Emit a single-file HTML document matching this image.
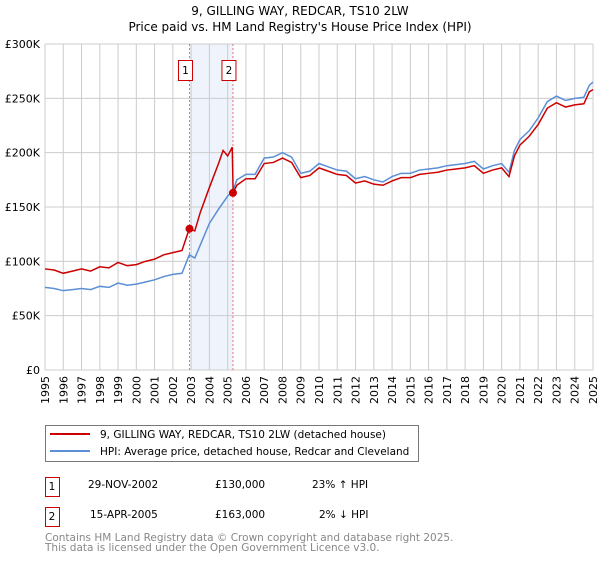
<!DOCTYPE html>
<html><head><meta charset="utf-8"><style>
body{margin:0;background:#fff;font-family:"Liberation Sans","DejaVu Sans",sans-serif;}
svg text{font-family:"DejaVu Sans","Liberation Sans",sans-serif;}
</style></head><body>
<svg width="600" height="560" viewBox="0 0 600 560" xmlns="http://www.w3.org/2000/svg">
<text x="300" y="15" text-anchor="middle" font-size="12">9, GILLING WAY, REDCAR, TS10 2LW</text>
<text x="300" y="31" text-anchor="middle" font-size="12">Price paid vs. HM Land Registry's House Price Index (HPI)</text>
<g id="grid"></g>
<g id="plot"></g>
<g id="axes"></g>
<g>
<rect x="45.5" y="425.5" width="373" height="36" fill="#fff" stroke="#777" stroke-width="1"/>
<line x1="50" y1="434" x2="90" y2="434" stroke="#cc0000" stroke-width="2"/>
<text x="100" y="438" font-size="10.5">9, GILLING WAY, REDCAR, TS10 2LW (detached house)</text>
<line x1="50" y1="451" x2="90" y2="451" stroke="#5b8fd6" stroke-width="2"/>
<text x="100" y="455" font-size="10.5">HPI: Average price, detached house, Redcar and Cleveland</text>
</g>
<g font-size="10.5">
<rect x="45.5" y="477.5" width="14" height="19" fill="#fff" stroke="#cc0000"/><text x="52" y="490" text-anchor="middle">1</text>
<text x="88" y="488">29-NOV-2002</text><text x="215" y="488">£130,000</text><text x="312" y="488">23% ↑ HPI</text>
<rect x="45.5" y="507.5" width="14" height="19" fill="#fff" stroke="#cc0000"/><text x="52" y="520" text-anchor="middle">2</text>
<text x="90" y="518">15-APR-2005</text><text x="215" y="518">£163,000</text><text x="319" y="518">2% ↓ HPI</text>
</g>
<text x="45" y="541" font-size="10.5" fill="#888">Contains HM Land Registry data © Crown copyright and database right 2025.</text>
<text x="45" y="551" font-size="10.5" fill="#888">This data is licensed under the Open Government Licence v3.0.</text>
</svg>
<script>
const hpiYears=[1995,1995.5,1996,1996.5,1997,1997.5,1998,1998.5,1999,1999.5,2000,2000.5,2001,2001.5,2002,2002.5,2002.9,2003.2,2003.5,2004,2004.5,2005,2005.3,2005.5,2006,2006.5,2007,2007.5,2008,2008.5,2009,2009.5,2010,2010.5,2011,2011.5,2012,2012.5,2013,2013.5,2014,2014.5,2015,2015.5,2016,2016.5,2017,2017.5,2018,2018.5,2019,2019.5,2020,2020.4,2020.7,2021,2021.5,2022,2022.5,2023,2023.5,2024,2024.5,2024.8,2025];
const hpiValues=[76,75,73,74,75,74,77,76,80,78,79,81,83,86,88,89,106,103,115,135,148,160,165,175,180,180,195,196,200,196,181,183,190,187,184,183,176,178,175,173,178,181,181,184,185,186,188,189,190,192,185,188,190,182,202,212,220,232,247,252,248,250,251,262,265];
const priceYears=[1995,1995.5,1996,1996.5,1997,1997.5,1998,1998.5,1999,1999.5,2000,2000.5,2001,2001.5,2002,2002.5,2002.9,2003.2,2003.5,2004,2004.5,2004.75,2005,2005.25,2005.3,2005.5,2006,2006.5,2007,2007.5,2008,2008.5,2009,2009.5,2010,2010.5,2011,2011.5,2012,2012.5,2013,2013.5,2014,2014.5,2015,2015.5,2016,2016.5,2017,2017.5,2018,2018.5,2019,2019.5,2020,2020.4,2020.7,2021,2021.5,2022,2022.5,2023,2023.5,2024,2024.5,2024.8,2025];
const priceValues=[93,92,89,91,93,91,95,94,99,96,97,100,102,106,108,110,130,128,145,168,190,202,197,205,163,170,176,176,190,191,195,191,177,179,186,183,180,179,172,174,171,170,174,177,177,180,181,182,184,185,186,188,181,184,186,178,197,207,215,226,241,246,242,244,245,256,258];
const sales=[[2002.91,130],[2005.29,163]];
const yTicks=[0,50,100,150,200,250,300];
const xTicks=[1995,1996,1997,1998,1999,2000,2001,2002,2003,2004,2005,2006,2007,2008,2009,2010,2011,2012,2013,2014,2015,2016,2017,2018,2019,2020,2021,2022,2023,2024,2025];
const NS="http://www.w3.org/2000/svg";
const X=y=>45+(y-1995)*(548/30);
const Y=v=>370-v*(326/300);
function mk(t,a,p){const e=document.createElementNS(NS,t);for(const k in a)e.setAttribute(k,a[k]);p.appendChild(e);return e;}
const grid=document.getElementById('grid'),plot=document.getElementById('plot'),axes=document.getElementById('axes');
const band=mk('rect',{x:X(sales[0][0]),y:Y(300),width:X(sales[1][0])-X(sales[0][0]),height:Y(0)-Y(300),fill:'#eef3fc'},grid);


xTicks.forEach(t=>{const l=mk('line',{x1:X(t),x2:X(t),y1:Y(300),y2:Y(0),stroke:'#ccc','stroke-width':1},grid);


const tx=mk('text',{x:0,y:0,'font-size':11,'text-anchor':'end',transform:`translate(${X(t)+4},${Y(0)+6}) rotate(-90)`},axes);tx.textContent=t;

});
yTicks.forEach(t=>{const l=mk('line',{x1:X(1995),x2:X(2025),y1:Y(t),y2:Y(t),stroke:'#ccc','stroke-width':1},grid);


const tx=mk('text',{x:40,y:Y(t)+4,'font-size':11,'text-anchor':'end'},axes);tx.textContent=t===0?'£0':'£'+t+'K';

});
sales.forEach((s,i)=>{const l=mk('line',{x1:X(s[0]),x2:X(s[0]),y1:Y(300),y2:Y(0),stroke:'#f07070','stroke-width':1,'stroke-dasharray':'2,2'},grid);


const r=mk('rect',{x:X(s[0])-11,y:60.5,width:14,height:20,fill:'#fff',stroke:'#cc0000'},axes);


const tx=mk('text',{x:X(s[0])-4,y:74,'font-size':10.5,'text-anchor':'middle'},axes);tx.textContent=i+1;

});
const hp=mk('polyline',{points:hpiYears.map((y,i)=>X(y)+','+Y(hpiValues[i])).join(' '),fill:'none',stroke:'#5b8fd6','stroke-width':1.5},plot);


const pp=mk('polyline',{points:priceYears.map((y,i)=>X(y)+','+Y(priceValues[i])).join(' '),fill:'none',stroke:'#cc0000','stroke-width':1.5},plot);


sales.forEach(s=>{const c=mk('circle',{cx:X(s[0]),cy:Y(s[1]),r:4,fill:'#cc0000'},plot);

});
</script>
</body></html>
